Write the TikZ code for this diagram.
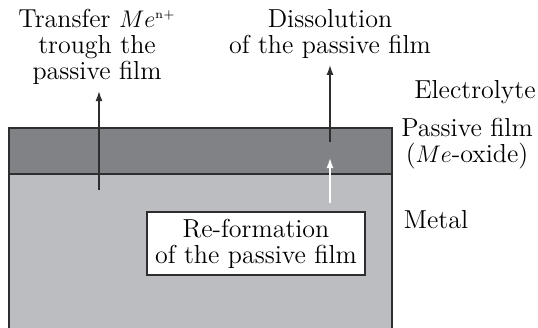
\documentclass[tikz,border=0pt]{standalone}
\usetikzlibrary{arrows.meta}
\definecolor{filmgray}{HTML}{808286}
\definecolor{metalgray}{HTML}{BCBDC0}
\definecolor{edge}{HTML}{2E2E30}
\tikzset{
  lbl/.style={inner sep=1pt, align=center, font=\fontsize{13}{13}\selectfont},
  arr/.style={line width=0.7pt, -{Latex[length=5pt,width=3.5pt]}},
  framebox/.style={draw=edge, line width=0.8pt, fill=white, minimum width=109pt, minimum height=31.5pt, inner sep=0pt}
}
\begin{document}
\begin{tikzpicture}[x=0.5pt,y=-0.5pt]
\useasboundingbox (0,0) rectangle (538,328);
% layers
\fill[metalgray] (9,174) rectangle (392,328);
\fill[filmgray] (9,128) rectangle (392,174);
\draw[edge, line width=0.8pt] (9,328) -- (9,128) -- (392,128) -- (392,328);
\draw[edge, line width=0.8pt] (9,174) -- (392,174);
% labels
\node[lbl] (tr) at (97,47) {Transfer $Me^{\scriptscriptstyle\mathrm{n+}}$\\trough the\\passive film};
\node[lbl] (dis) at (330,34) {Dissolution\\of the passive film};
\node[lbl] (el) at (475,92) {Electrolyte};
\node[lbl] (pf) at (467,144) {Passive film\\($Me$-oxide)};
\node[lbl] (me) at (436,220) {Metal};
\node[framebox, lbl, inner sep=0pt] (ref) at (256,243.5) {Re-formation\\of the passive film};
% arrows
\coordinate (a1) at (99,190);
\coordinate (a2) at (330,142);
\coordinate (a3) at (330,203);
\coordinate (a3t) at (330,158);
\draw[arr, edge, shorten >=2pt] (a1) -- (tr.south -| a1);
\draw[arr, edge, shorten >=2pt] (a2) -- (dis.south -| a2);
\draw[arr, white] (a3) -- (a3t);
\end{tikzpicture}
\end{document}
